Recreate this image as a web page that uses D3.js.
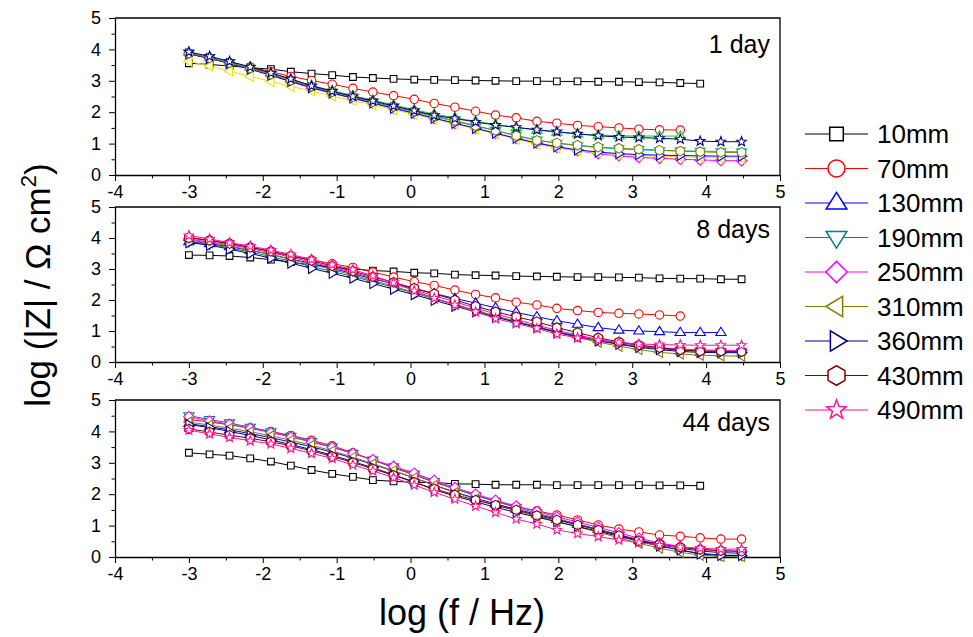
<!DOCTYPE html>
<html>
<head>
<meta charset="utf-8">
<script src="https://cdn.jsdelivr.net/npm/d3@7"></script>
<style>
  body { margin: 0; background: #fff; }
  svg { display: block; }
  text { font-family: Arial, "Liberation Sans", sans-serif; fill: #000; }
</style>
</head>
<body>
<svg id="chart"></svg>
<script>
// DATA

// log(f / Hz) of the measured frequencies
const logFreq = [-3, -2.72, -2.45, -2.17, -1.89, -1.62, -1.34, -1.06, -0.78, -0.51, -0.23, 0.05, 0.32, 0.6,
  0.88, 1.15, 1.43, 1.71, 1.98, 2.26, 2.54, 2.82, 3.09, 3.37, 3.65, 3.92, 4.2, 4.48];

const seriesNames = ["10mm", "70mm", "130mm", "190mm", "250mm", "310mm", "360mm", "430mm", "490mm"];
const seriesShapes = ["square", "circle", "triangleUp", "triangleDown", "diamond", "triangleLeft", "triangleRight", "hexagon", "star"];
const seriesColors = ["#000000", "#ff0000", "#0000ff", "#008080", "#ff00ff", "#808000", "#000080", "#800000", "#ff1493"];
// the 1 day panel was plotted with other colours
const day1Colors = ["#000000", "#ff0000", "#00dd00", "#00cccc", "#ff00ff", "#e6e600", "#0000ff", "#808000", "#000080"];

const panelLabels = ["1 day", "8 days", "44 days"];
const xTicks = [-4, -3, -2, -1, 0, 1, 2, 3, 4, 5];
const yTicks = [0, 1, 2, 3, 4, 5];

// log|Z| values, one row per series (same order as seriesNames)
const day1Values = [
  [3.56, 3.52, 3.47, 3.42, 3.37, 3.29, 3.23, 3.18, 3.12, 3.09, 3.06, 3.04, 3.03, 3.02, 3.01, 3.00, 2.99, 2.99, 2.98, 2.98, 2.97, 2.97, 2.96, 2.95, 2.93, 2.91],
  [3.85, 3.72, 3.58, 3.44, 3.29, 3.14, 3.01, 2.89, 2.76, 2.64, 2.53, 2.41, 2.28, 2.16, 2.03, 1.91, 1.82, 1.71, 1.65, 1.58, 1.54, 1.50, 1.46, 1.44, 1.43],
  [3.90, 3.76, 3.60, 3.43, 3.24, 3.05, 2.85, 2.69, 2.53, 2.38, 2.23, 2.08, 1.94, 1.82, 1.71, 1.61, 1.51, 1.43, 1.36, 1.31, 1.27, 1.25, 1.24, 1.24, 1.24],
  [3.88, 3.74, 3.58, 3.40, 3.21, 3.01, 2.81, 2.64, 2.48, 2.32, 2.17, 2.01, 1.86, 1.71, 1.56, 1.41, 1.26, 1.12, 1.01, 0.93, 0.87, 0.83, 0.80, 0.78, 0.77, 0.76, 0.75, 0.74],
  [3.87, 3.72, 3.55, 3.37, 3.17, 2.97, 2.77, 2.60, 2.44, 2.28, 2.12, 1.96, 1.80, 1.64, 1.48, 1.32, 1.16, 1.01, 0.88, 0.77, 0.68, 0.61, 0.56, 0.53, 0.50, 0.48, 0.46, 0.45],
  [3.62, 3.47, 3.31, 3.14, 2.98, 2.82, 2.68, 2.51, 2.37, 2.23, 2.08, 1.93, 1.78, 1.63, 1.47, 1.31, 1.14, 0.98, 0.86, 0.77, 0.70, 0.65, 0.62, 0.60, 0.58, 0.56, 0.55, 0.54],
  [3.86, 3.71, 3.55, 3.37, 3.18, 2.98, 2.78, 2.61, 2.45, 2.29, 2.13, 1.97, 1.81, 1.65, 1.49, 1.33, 1.17, 1.02, 0.90, 0.80, 0.73, 0.68, 0.65, 0.63, 0.62, 0.61, 0.60, 0.60],
  [3.88, 3.73, 3.57, 3.40, 3.21, 3.01, 2.82, 2.65, 2.49, 2.33, 2.18, 2.03, 1.88, 1.73, 1.57, 1.42, 1.25, 1.10, 1.02, 0.95, 0.89, 0.85, 0.82, 0.79, 0.76, 0.74, 0.72, 0.72],
  [3.92, 3.78, 3.62, 3.44, 3.25, 3.06, 2.84, 2.67, 2.50, 2.36, 2.20, 2.05, 1.90, 1.80, 1.69, 1.59, 1.52, 1.44, 1.38, 1.31, 1.25, 1.21, 1.19, 1.17, 1.14, 1.08, 1.06, 1.06]
];

const day8Values = [
  [3.45, 3.44, 3.42, 3.37, 3.30, 3.22, 3.13, 3.06, 3.00, 2.95, 2.92, 2.88, 2.86, 2.82, 2.80, 2.79, 2.77, 2.76, 2.75, 2.74, 2.74, 2.73, 2.72, 2.70, 2.69, 2.69, 2.67, 2.67],
  [4.02, 3.93, 3.82, 3.70, 3.57, 3.43, 3.29, 3.17, 3.05, 2.90, 2.74, 2.59, 2.47, 2.32, 2.18, 2.07, 1.93, 1.84, 1.73, 1.66, 1.60, 1.57, 1.55, 1.52, 1.48],
  [3.88, 3.82, 3.72, 3.60, 3.47, 3.32, 3.18, 3.02, 2.85, 2.68, 2.52, 2.37, 2.21, 2.05, 1.90, 1.75, 1.60, 1.46, 1.33, 1.22, 1.11, 1.03, 1.00, 0.98, 0.95, 0.95, 0.95],
  [3.88, 3.80, 3.68, 3.55, 3.40, 3.25, 3.08, 2.92, 2.76, 2.59, 2.41, 2.22, 2.04, 1.85, 1.66, 1.48, 1.31, 1.14, 0.98, 0.83, 0.70, 0.59, 0.50, 0.43, 0.38, 0.35, 0.33, 0.32],
  [3.95, 3.88, 3.78, 3.66, 3.53, 3.38, 3.22, 3.06, 2.89, 2.71, 2.52, 2.33, 2.14, 1.94, 1.74, 1.55, 1.37, 1.19, 1.02, 0.87, 0.73, 0.62, 0.53, 0.46, 0.42, 0.39, 0.38, 0.37],
  [3.92, 3.85, 3.74, 3.61, 3.47, 3.31, 3.15, 2.98, 2.81, 2.63, 2.44, 2.25, 2.06, 1.86, 1.67, 1.48, 1.30, 1.12, 0.95, 0.79, 0.64, 0.51, 0.40, 0.31, 0.26, 0.22, 0.20, 0.19],
  [3.85, 3.77, 3.64, 3.50, 3.35, 3.19, 3.02, 2.86, 2.70, 2.53, 2.35, 2.17, 1.99, 1.80, 1.62, 1.45, 1.28, 1.12, 0.96, 0.82, 0.68, 0.57, 0.47, 0.40, 0.34, 0.31, 0.30, 0.30],
  [4.00, 3.92, 3.82, 3.70, 3.57, 3.42, 3.27, 3.10, 2.93, 2.75, 2.57, 2.38, 2.20, 2.00, 1.80, 1.62, 1.46, 1.30, 1.11, 0.95, 0.78, 0.65, 0.55, 0.46, 0.39, 0.35, 0.35, 0.33],
  [4.08, 3.97, 3.85, 3.74, 3.61, 3.47, 3.31, 3.14, 2.98, 2.78, 2.56, 2.30, 2.06, 1.84, 1.62, 1.40, 1.24, 1.08, 0.90, 0.78, 0.70, 0.63, 0.58, 0.56, 0.55, 0.54, 0.54, 0.54]
];

const day44Values = [
  [3.32, 3.27, 3.23, 3.14, 3.04, 2.91, 2.77, 2.65, 2.55, 2.45, 2.41, 2.38, 2.37, 2.33, 2.32, 2.30, 2.30, 2.30, 2.29, 2.29, 2.29, 2.29, 2.29, 2.28, 2.28, 2.27],
  [4.38, 4.30, 4.21, 4.11, 4.00, 3.87, 3.72, 3.54, 3.32, 3.09, 2.84, 2.61, 2.38, 2.17, 1.97, 1.78, 1.60, 1.47, 1.34, 1.18, 1.02, 0.89, 0.80, 0.70, 0.66, 0.61, 0.57, 0.57],
  [4.25, 4.15, 4.05, 3.93, 3.80, 3.66, 3.51, 3.34, 3.15, 2.95, 2.74, 2.52, 2.29, 2.07, 1.87, 1.69, 1.52, 1.36, 1.20, 1.04, 0.88, 0.71, 0.55, 0.40, 0.28, 0.19, 0.14, 0.12],
  [4.50, 4.38, 4.27, 4.13, 3.99, 3.84, 3.68, 3.50, 3.30, 3.09, 2.87, 2.64, 2.40, 2.17, 1.96, 1.77, 1.58, 1.40, 1.23, 1.05, 0.88, 0.70, 0.52, 0.36, 0.22, 0.12, 0.06, 0.05],
  [4.47, 4.33, 4.23, 4.10, 3.96, 3.82, 3.66, 3.49, 3.30, 3.10, 2.89, 2.67, 2.44, 2.21, 2.00, 1.81, 1.62, 1.45, 1.28, 1.11, 0.94, 0.77, 0.60, 0.45, 0.33, 0.25, 0.20, 0.18],
  [4.30, 4.20, 4.10, 3.99, 3.86, 3.72, 3.56, 3.38, 3.18, 2.97, 2.75, 2.52, 2.28, 2.05, 1.84, 1.65, 1.47, 1.30, 1.13, 0.96, 0.79, 0.61, 0.44, 0.28, 0.15, 0.06, 0.02, 0.02],
  [4.22, 4.12, 4.00, 3.87, 3.73, 3.58, 3.42, 3.24, 3.04, 2.84, 2.62, 2.39, 2.14, 1.94, 1.76, 1.58, 1.42, 1.27, 1.12, 0.97, 0.82, 0.66, 0.50, 0.35, 0.22, 0.10, 0.05, 0.05],
  [4.08, 3.98, 3.88, 3.78, 3.67, 3.54, 3.38, 3.20, 3.01, 2.81, 2.60, 2.38, 2.17, 1.98, 1.81, 1.65, 1.50, 1.32, 1.18, 1.02, 0.86, 0.68, 0.52, 0.41, 0.31, 0.24, 0.20, 0.18],
  [4.04, 3.92, 3.81, 3.70, 3.60, 3.46, 3.30, 3.14, 2.93, 2.74, 2.53, 2.29, 2.06, 1.84, 1.62, 1.42, 1.21, 1.05, 0.86, 0.75, 0.65, 0.54, 0.46, 0.38, 0.31, 0.28, 0.25, 0.25]
];

// PAGE SETUP

let width = 973, height = 637;
let svg = d3.select("#chart").attr("width", width).attr("height", height);

let plotLeft = 115, plotRight = 780;
let panels = [
  {top: 18,  bottom: 175, values: day1Values,  colors: day1Colors,   labelY: 53},
  {top: 207, bottom: 362, values: day8Values,  colors: seriesColors, labelY: 238},
  {top: 400, bottom: 557, values: day44Values, colors: seriesColors, labelY: 431}
];

let x = d3.scaleLinear().domain([-4, 5]).range([plotLeft, plotRight]);

// plain hyphen for negatives, no decimals
let plainFormat = d => String(d);

// marker outlines, r is roughly the half width
function shapePath(shape, r){
  let pts;
  switch (shape){
    case "square":
      return `M${-0.8*r},${-0.8*r}h${1.6*r}v${1.6*r}h${-1.6*r}Z`;
    case "circle":
      return `M${r},0A${r},${r} 0 1,1 ${-r},0A${r},${r} 0 1,1 ${r},0Z`;
    case "triangleUp":    pts = [[0,-1.25*r],[1.22*r,0.72*r],[-1.22*r,0.72*r]]; break;
    case "triangleDown":  pts = [[0,1.25*r],[1.22*r,-0.72*r],[-1.22*r,-0.72*r]]; break;
    case "diamond":       pts = [[0,-1.25*r],[1.25*r,0],[0,1.25*r],[-1.25*r,0]]; break;
    case "triangleLeft":  pts = [[-1.25*r,0],[0.72*r,-1.2*r],[0.72*r,1.2*r]]; break;
    case "triangleRight": pts = [[1.25*r,0],[-0.72*r,-1.2*r],[-0.72*r,1.2*r]]; break;
    case "hexagon":
      pts = d3.range(6).map(k => { let a = (-90 + 60*k) * Math.PI/180; return [1.15*r*Math.cos(a), 1.15*r*Math.sin(a)]; });
      break;
    case "star":
      pts = d3.range(10).map(k => {
        let a = (-90 + 36*k) * Math.PI/180, rr = (k % 2 == 0) ? 1.2*r : 0.5*r;
        return [rr*Math.cos(a), rr*Math.sin(a)];
      });
      break;
  }
  return "M" + pts.map(p => p[0].toFixed(2) + "," + p[1].toFixed(2)).join("L") + "Z";
}

// PANELS

panels.forEach(function(p, pi){
  let y = d3.scaleLinear().domain([0, 5]).range([p.bottom, p.top]);
  let g = svg.append("g");

  // frame: top and right edges
  g.append("path")
    .attr("d", `M${plotLeft},${p.top}H${plotRight}V${p.bottom}`)
    .attr("fill", "none").attr("stroke", "#000").attr("stroke-width", 1.3);

  // minor ticks
  g.append("g").attr("transform", `translate(0,${p.bottom})`)
    .call(d3.axisBottom(x).tickValues(d3.range(-3.5, 5, 1)).tickSize(3.5).tickSizeOuter(0).tickFormat(""))
    .call(a => a.select(".domain").remove());
  g.append("g").attr("transform", `translate(${plotLeft},0)`)
    .call(d3.axisLeft(y).tickValues(d3.range(0.5, 5, 1)).tickSize(3.5).tickSizeOuter(0).tickFormat(""))
    .call(a => a.select(".domain").remove());

  // major axes
  let xAxis = g.append("g").attr("transform", `translate(0,${p.bottom})`)
    .call(d3.axisBottom(x).tickValues(xTicks).tickFormat(plainFormat).tickSize(6).tickSizeOuter(0).tickPadding(4));
  let yAxis = g.append("g").attr("transform", `translate(${plotLeft},0)`)
    .call(d3.axisLeft(y).tickValues(yTicks).tickFormat(plainFormat).tickSize(6).tickSizeOuter(0).tickPadding(8));

  [xAxis, yAxis].forEach(a => {
    a.selectAll("text").attr("font-size", 18).attr("font-family", "Arial, 'Liberation Sans', sans-serif").attr("fill", "#000");
    a.select(".domain").attr("stroke-width", 1.3);
  });
  g.selectAll(".tick line").attr("stroke", "#000");

  // series
  let line = d3.line().x(d => x(d[0])).y(d => y(d[1]));
  p.values.forEach(function(vals, si){
    let pts = vals.map((v, i) => [logFreq[i], v]);
    let color = p.colors[si];
    g.append("path")
      .datum(pts)
      .attr("d", line)
      .attr("fill", "none")
      .attr("stroke", color)
      .attr("stroke-width", 1);
    g.selectAll(null)
      .data(pts)
      .enter()
      .append("path")
      .attr("d", shapePath(seriesShapes[si], 4.2))
      .attr("transform", d => `translate(${x(d[0])},${y(d[1])})`)
      .attr("fill", "#fff")
      .attr("stroke", color)
      .attr("stroke-width", 1.1);
  });

  g.append("text")
    .attr("x", 770).attr("y", p.labelY)
    .attr("text-anchor", "end")
    .attr("font-size", 25)
    .text(panelLabels[pi]);
});

// AXIS TITLES

svg.append("text")
  .attr("x", 462).attr("y", 625)
  .attr("text-anchor", "middle")
  .attr("font-size", 36)
  .text("log (f / Hz)");

let yTitle = svg.append("text")
  .attr("transform", "translate(50,285) rotate(-90)")
  .attr("text-anchor", "middle")
  .attr("font-size", 35);
yTitle.append("tspan").text("log (|Z| / \u03A9 cm");
yTitle.append("tspan").attr("font-size", 22).attr("dy", -14).text("2");
yTitle.append("tspan").attr("dy", 14).text(")");

// LEGEND

let legend = svg.append("g");
seriesNames.forEach(function(name, i){
  let ly = 134 + i * 34.5;
  legend.append("line")
    .attr("x1", 805).attr("x2", 868).attr("y1", ly).attr("y2", ly)
    .attr("stroke", seriesColors[i]).attr("stroke-width", 1.2);
  legend.append("path")
    .attr("d", shapePath(seriesShapes[i], 8.5))
    .attr("transform", `translate(836.5,${ly})`)
    .attr("fill", "#fff")
    .attr("stroke", seriesColors[i])
    .attr("stroke-width", 1.5);
  legend.append("text")
    .attr("x", 877).attr("y", ly + 9)
    .attr("font-size", 26)
    .text(name);
});
</script>
</body>
</html>
